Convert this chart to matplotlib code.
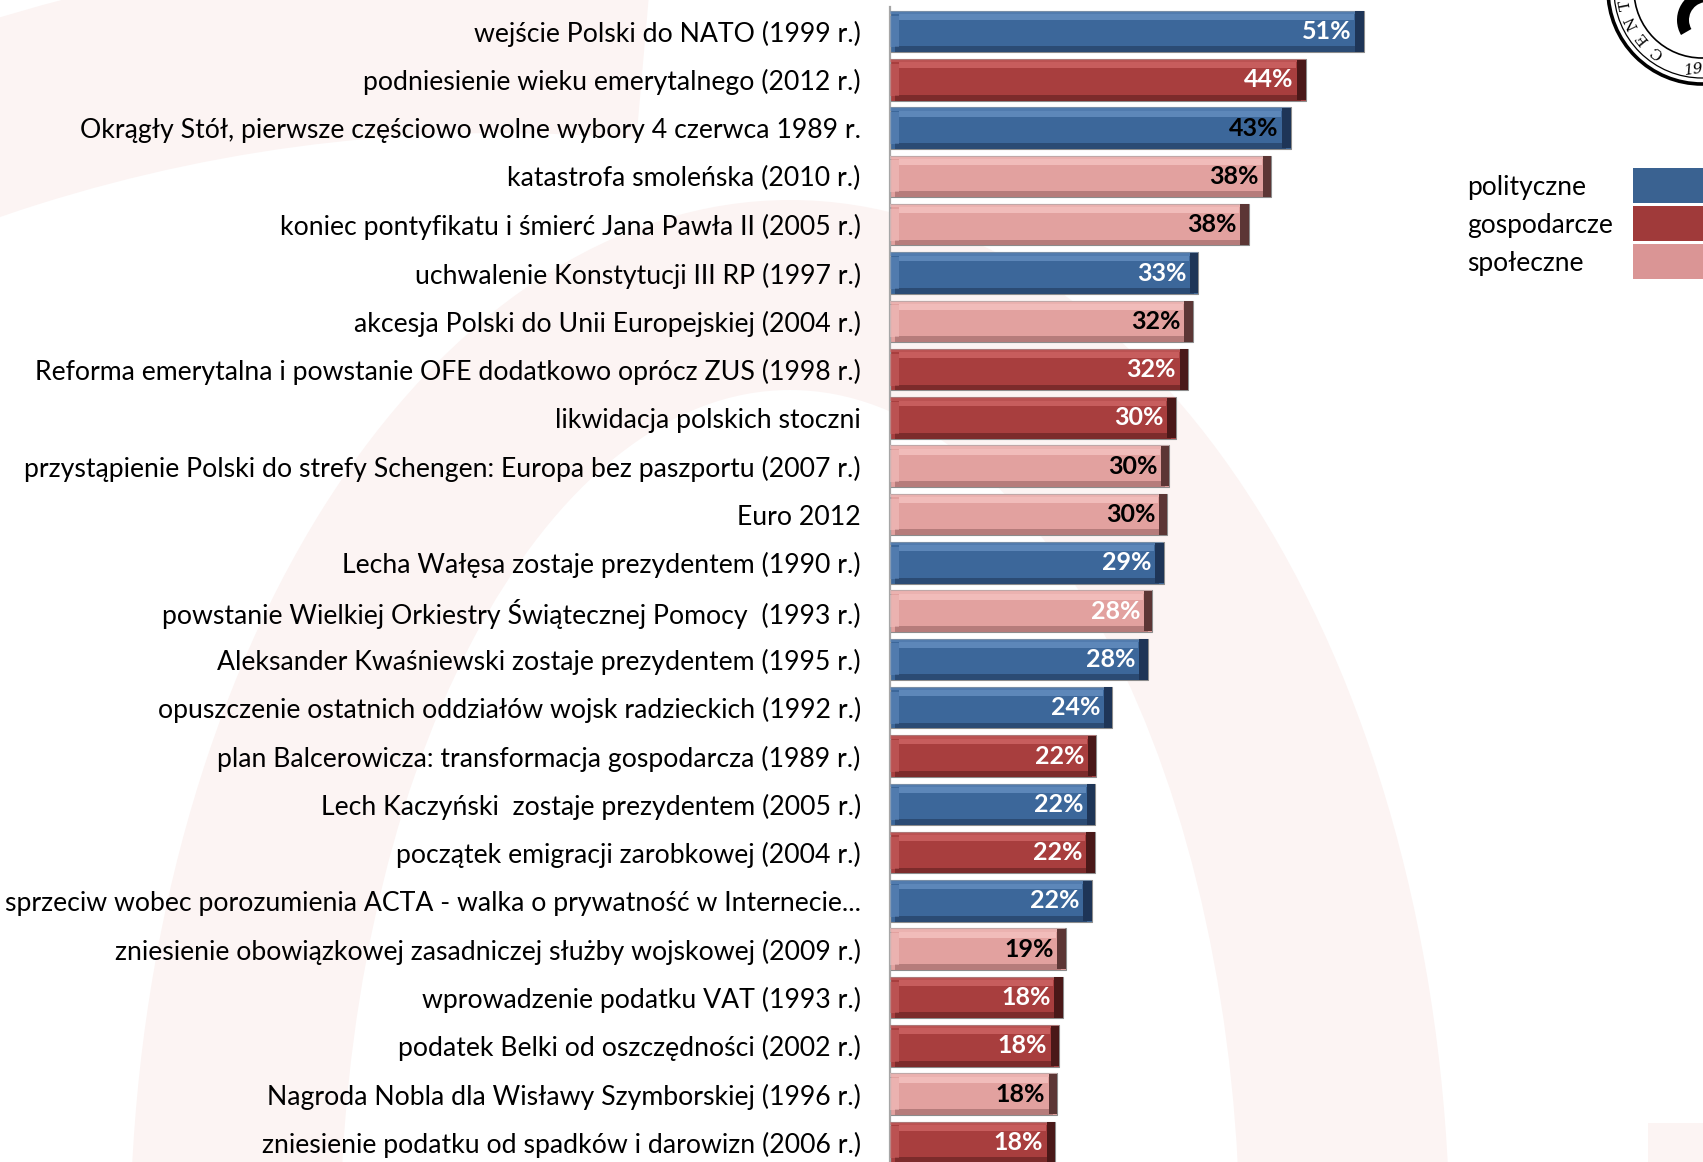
import matplotlib
matplotlib.use("Agg")
import matplotlib.pyplot as plt
from matplotlib.patches import Wedge, Rectangle, Circle
from matplotlib.patches import Ellipse
import numpy as np

plt.rcParams['font.family'] = ['Lato', 'DejaVu Sans']

events = [
    "wejście Polski do NATO (1999 r.)",
    "podniesienie wieku emerytalnego (2012 r.)",
    "Okrągły Stół, pierwsze częściowo wolne wybory 4 czerwca 1989 r.",
    "katastrofa smoleńska (2010 r.)",
    "koniec pontyfikatu i śmierć Jana Pawła II (2005 r.)",
    "uchwalenie Konstytucji III RP (1997 r.)",
    "akcesja Polski do Unii Europejskiej (2004 r.)",
    "Reforma emerytalna i powstanie OFE dodatkowo oprócz ZUS (1998 r.)",
    "likwidacja polskich stoczni",
    "przystąpienie Polski do strefy Schengen: Europa bez paszportu (2007 r.)",
    "Euro 2012",
    "Lecha Wałęsa zostaje prezydentem (1990 r.)",
    "powstanie Wielkiej Orkiestry Świątecznej Pomocy  (1993 r.)",
    "Aleksander Kwaśniewski zostaje prezydentem (1995 r.)",
    "opuszczenie ostatnich oddziałów wojsk radzieckich (1992 r.)",
    "plan Balcerowicza: transformacja gospodarcza (1989 r.)",
    "Lech Kaczyński  zostaje prezydentem (2005 r.)",
    "początek emigracji zarobkowej (2004 r.)",
    "sprzeciw wobec porozumienia ACTA - walka o prywatność w Internecie...",
    "zniesienie obowiązkowej zasadniczej służby wojskowej (2009 r.)",
    "wprowadzenie podatku VAT (1993 r.)",
    "podatek Belki od oszczędności (2002 r.)",
    "Nagroda Nobla dla Wisławy Szymborskiej (1996 r.)",
    "zniesienie podatku od spadków i darowizn (2006 r.)",
]
# bar lengths as drawn in the picture
values = [50.7, 44.5, 42.9, 40.8, 38.4, 33.0, 32.4, 31.9, 30.6, 29.9, 29.7, 29.3,
          28.1, 27.6, 23.8, 22.1, 22.0, 21.9, 21.6, 18.8, 18.5, 18.1, 17.9, 17.7]
# printed labels
value_labels = ["51%", "44%", "43%", "38%", "38%", "33%", "32%", "32%", "30%", "30%",
                "30%", "29%", "28%", "28%", "24%", "22%", "22%", "22%", "22%", "19%",
                "18%", "18%", "18%", "18%"]
kinds = ["pol", "gos", "pol", "spo", "spo", "pol", "spo", "gos", "gos", "spo", "spo", "pol",
         "spo", "pol", "pol", "gos", "pol", "gos", "pol", "spo", "gos", "gos", "spo", "gos"]
label_colors = ["w", "w", "k", "k", "k", "w", "k", "w", "w", "k", "k", "w",
                "w", "w", "w", "w", "w", "w", "w", "k", "w", "w", "k", "w"]

legend_names = ["polityczne", "gospodarcze", "społeczne"]
legend_keys = ["pol", "gos", "spo"]

palette = {
    "pol": dict(base="#3C679A", hi="#6690C2", lo="#2B4B74", edge="#1E3557", leg="#3A6291"),
    "gos": dict(base="#A83E3E", hi="#CF6666", lo="#7C2B2B", edge="#4A1818", leg="#A03A3A"),
    "spo": dict(base="#E2A19F", hi="#F5C3C2", lo="#B67C7B", edge="#5C3635", leg="#DA9595"),
}

W, H = 1703, 1162
fig = plt.figure(figsize=(W / 100, H / 100), dpi=100)

# faint watermark in the background (pixel coordinates)
bg = fig.add_axes([0, 0, 1, 1], zorder=0)
bg.set_xlim(0, W)
bg.set_ylim(H, 0)
bg.axis("off")
wm = "#FCF4F3"
bg.add_patch(Ellipse((790, 1250), 2 * 660, 2 * 1050, color=wm, lw=0))
bg.add_patch(Ellipse((790, 1250), 2 * 450, 2 * 860, color="white", lw=0))
bg.add_patch(Wedge((502, 1675), 1732, 230, 275, width=190, color=wm, lw=0))
bg.add_patch(Rectangle((1648, 1123), 60, 45, color=wm, lw=0))

# seal in the top-right corner
cx, cy = 1702, -10
bg.add_patch(Circle((cx, cy), 94, fill=False, ec="black", lw=2.6))
bg.add_patch(Circle((cx, cy), 88, fill=False, ec="black", lw=0.9))
bg.add_patch(Circle((cx, cy), 68, fill=False, ec="black", lw=1.2))
for ch, ang in zip("CENT", [126, 141, 155, 169]):
    a = np.deg2rad(ang)
    bg.text(cx + 77 * np.cos(a), cy + 77 * np.sin(a), ch, rotation=-ang - 90,
            rotation_mode="anchor", ha="center", va="center", fontsize=11,
            family="DejaVu Serif", color="black")
bg.text(cx - 8, cy + 80, "19", fontsize=11, family="DejaVu Serif", ha="center",
        va="center", rotation=8, style="italic")
bg.add_patch(Wedge((cx + 5, cy + 30), 30, 150, 260, width=12, color="black", lw=0))

# legend
for i, (name, key) in enumerate(zip(legend_names, legend_keys)):
    y0 = 168 + i * 38
    bg.add_patch(Rectangle((1633, y0), 80, 35, color=palette[key]["leg"], lw=0))
    bg.text(1467, y0 + 20, name, fontsize=19, ha="left", va="center", color="black")

# main bar chart
px_per_unit = 9.34
xmax = 60
row = 48.3
ax = fig.add_axes([890 / W, (H - (31.5 + 23.5 * row)) / H, xmax * px_per_unit / W, 24 * row / H],
                  zorder=2)
ax.patch.set_alpha(0)
y = np.arange(len(events))
h = 0.86
vals = np.array(values)
base = [palette[k]["base"] for k in kinds]
hi = [palette[k]["hi"] for k in kinds]
lo = [palette[k]["lo"] for k in kinds]
edge = [palette[k]["edge"] for k in kinds]

ax.barh(y, vals, height=h, color=base, edgecolor="#8C8C8C", linewidth=0.8, zorder=2)
# bevel: highlight on top, shade at bottom, dark right end
ax.barh(y - h / 2 + 0.13, vals - 2.0, left=1.0, height=0.12, color=hi, lw=0, zorder=3, alpha=0.8)
ax.barh(y - h / 2 + 0.035, vals - 0.1, left=0.05, height=0.07, color=hi, lw=0, zorder=3, alpha=0.5)
ax.barh(y + h / 2 - 0.06, vals - 1.0, left=0.5, height=0.12, color=lo, lw=0, zorder=3)
ax.barh(y, np.full(len(vals), 0.9), left=vals - 0.9, height=h - 0.02, color=edge, lw=0, zorder=3)
ax.barh(y, np.full(len(vals), 0.9), left=0.05, height=h - 0.2, color=hi, lw=0, zorder=3, alpha=0.5)

for yi, v, lab, c in zip(y, vals, value_labels, label_colors):
    ax.annotate(lab, (v, yi), xytext=(-12, 0), textcoords="offset pixels",
                ha="right", va="center", fontsize=18, fontweight="bold",
                color="white" if c == "w" else "black", zorder=4)

ax.set_xlim(0, xmax)
ax.set_ylim(len(events) - 0.5, -0.5)
ax.set_yticks(y)
ax.set_yticklabels(events, fontsize=19.2)
ax.set_xticks([])
ax.tick_params(axis="y", length=0, pad=21)
for s in ["top", "right", "bottom"]:
    ax.spines[s].set_visible(False)
ax.spines["left"].set_color("#A6A6A6")
ax.spines["left"].set_linewidth(1.6)

fig.savefig("out.png", dpi=100)
